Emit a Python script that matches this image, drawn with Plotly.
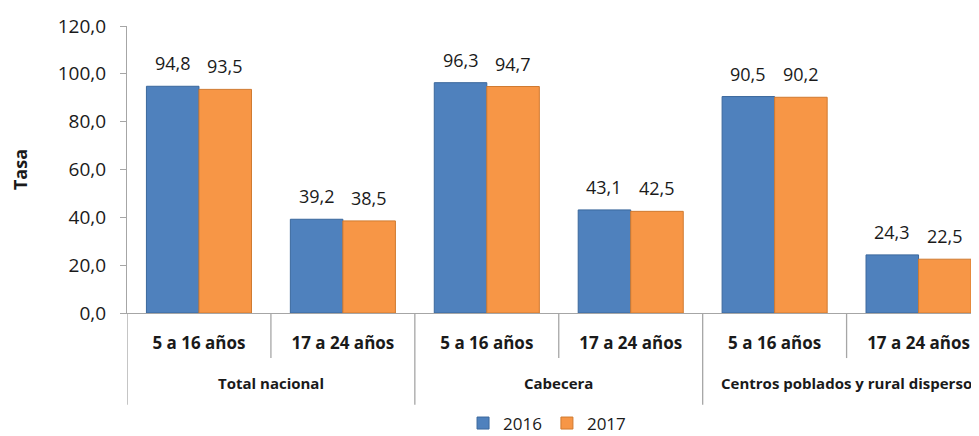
import plotly.graph_objects as go

groups = ["Total nacional", "Cabecera", "Centros poblados y rural disperso"]
age_groups = ["5 a 16 años", "17 a 24 años"]
years = ["2016", "2017"]
values_2016 = [94.8, 39.2, 96.3, 43.1, 90.5, 24.3]
values_2017 = [93.5, 38.5, 94.7, 42.5, 90.2, 22.5]
y_ticks = [0, 20, 40, 60, 80, 100, 120]

labels = [a for g in groups for a in age_groups]
positions = list(range(len(labels)))

colors = {"2016": "#4F81BD", "2017": "#F79646"}
edge = {"2016": "#3A679C", "2017": "#D07A30"}
FONT = "Open Sans, DejaVu Sans, sans-serif"
GRID = "#A6A6A6"
BARGAP = 0.27

fig = go.Figure()
series = {"2016": values_2016, "2017": values_2017}
for yr in years:
    fig.add_trace(go.Bar(
        x=positions, y=series[yr], name=yr,
        marker=dict(color=colors[yr], line=dict(color=edge[yr], width=1)),
    ))

annotations = []
bw = (1 - BARGAP) / len(years)
for k, yr in enumerate(years):
    off = (k - (len(years) - 1) / 2) * bw
    for p, v in zip(positions, series[yr]):
        annotations.append(dict(
            x=p + off, y=v, xref="x", yref="y", text=f"{v:.1f}".replace(".", ","),
            showarrow=False, yanchor="middle", yshift=23,
            font=dict(family=FONT, size=18, color="#1a1a1a")))

n_sub = len(age_groups)
for gi, g in enumerate(groups):
    annotations.append(dict(
        x=gi * n_sub + (n_sub - 1) / 2, y=-0.244, xref="x", yref="paper",
        text=g, showarrow=False, yanchor="middle",
        font=dict(family=FONT, size=15, color="#1a1a1a", weight="bold")))

shapes = []
for i in positions:
    b = i - 0.5
    outer = (i % n_sub == 0)
    shapes.append(dict(
        type="line", xref="x", yref="paper", x0=b, x1=b,
        y0=0, y1=-0.32 if outer else -0.157,
        line=dict(color=GRID, width=1.3)))

# the page body adds an 8 px margin, so the figure is sized to fit the window
fig.update_layout(
    width=971, height=428,
    margin=dict(l=119, r=0, t=18, b=123, autoexpand=False),
    paper_bgcolor="white", plot_bgcolor="white",
    barmode="group", bargap=BARGAP, bargroupgap=0,
    separators=",.",
    font=dict(family=FONT, color="#1a1a1a"),
    showlegend=True,
    legend=dict(orientation="h", x=0.493, xanchor="center", y=-0.385, yanchor="middle",
                font=dict(family=FONT, size=17, color="#1a1a1a")),
    annotations=annotations,
    shapes=shapes,
)
fig.update_xaxes(
    range=[-0.5, 5.42], tickvals=positions, ticktext=labels, automargin=False,
    showline=True, linecolor=GRID, linewidth=1.3, ticks="", showgrid=False,
    zeroline=False, ticklabelstandoff=14,
    tickfont=dict(family=FONT, size=17, color="#1a1a1a", weight="bold"),
)
fig.update_yaxes(
    range=[0, 120], tickvals=y_ticks, tickformat=".1f", automargin=False,
    showline=True, linecolor=GRID, linewidth=1.3, ticks="outside", ticklen=6,
    tickcolor=GRID, tickwidth=1.3, showgrid=False, zeroline=False,
    ticklabelstandoff=10,
    tickfont=dict(family=FONT, size=19, color="#1a1a1a"),
    title=dict(text="<b>Tasa</b>", standoff=30, font=dict(family=FONT, size=18, color="#1a1a1a")),
)

fig.write_html("out.html")
